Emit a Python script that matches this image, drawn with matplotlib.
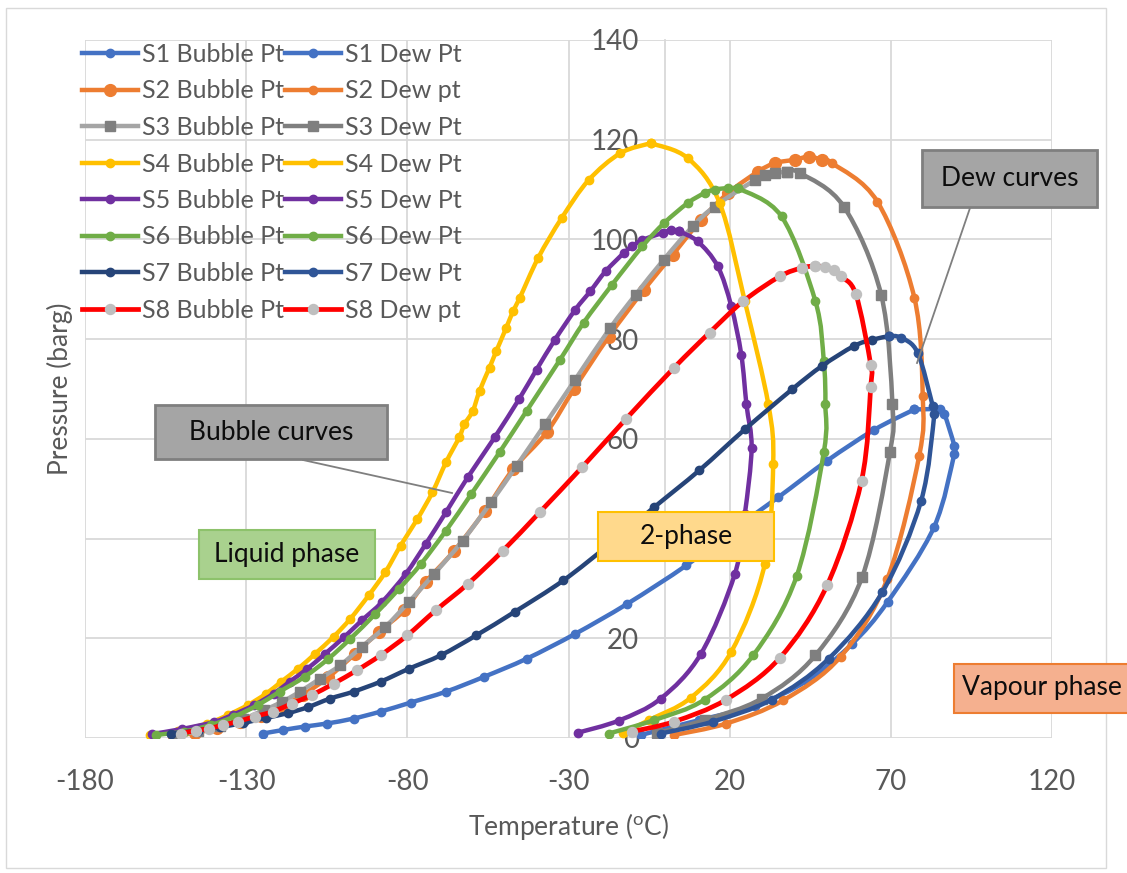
import numpy as np
import matplotlib
matplotlib.use("Agg")
import matplotlib.pyplot as plt
from matplotlib.path import Path
from matplotlib.patches import PathPatch, Rectangle
from matplotlib.lines import Line2D

plt.rcParams['font.family'] = ['Lato', 'DejaVu Sans']
plt.rcParams['mathtext.fontset'] = 'custom'
plt.rcParams['mathtext.rm'] = 'Lato'
plt.rcParams['axes.unicode_minus'] = False

# (temperature degC, pressure barg)
s1_bub_t = [-124.8, -118.6, -111.8, -105, -96.7, -88.3, -79, -68, -56.1, -43, -27.9, -11.8, 6.5, 20.5, 35.1, 50.2, 64.8, 77.3]
s1_bub_p = [0.9, 1.6, 2.3, 2.9, 3.9, 5.3, 7.1, 9.3, 12.3, 15.9, 20.9, 26.9, 34.6, 41.5, 48.3, 55.6, 61.8, 65.9]
s1_dew_t = [-7.6, 10.6, 28, 44, 58, 69.0, 83.4, 89.7, 89.7, 86.6, 85.1, 77.3]
s1_dew_p = [0.6, 3.6, 6.5, 11.5, 18.9, 27.3, 42.3, 57.0, 58.6, 65.0, 65.9, 65.9]

s2_bub_t = [-152.4, -146, -139, -132, -125.5, -119, -112.5, -104.5, -96.2, -88.8, -81, -74.3, -65.4, -56, -47.2, -36.8, -28.4, -17.5, -6.6, 2.3, 11.1, 19.5, 28.8, 34, 40.3, 44.5, 48.6]
s2_bub_p = [0.4, 1.0, 2.0, 3.2, 4.5, 6.4, 8.6, 12.2, 16.9, 21.3, 25.6, 31.3, 37.6, 45.5, 53.9, 61.3, 69.9, 80.5, 89.9, 96.9, 103.9, 109.3, 113.6, 115.3, 116.0, 116.6, 116.0]
s2_dew_t = [2.8, 18.9, 36.7, 54.4, 68.9, 78.8, 79.9, 77.3, 65.8, 51.8, 48.6]
s2_dew_p = [0.6, 2.9, 7.6, 16.3, 31.9, 56.6, 68.6, 88.3, 107.6, 115.3, 116.0]

s3_bub_t = [-151, -145, -138, -131, -124.5, -119, -113.3, -107.1, -100.8, -94.1, -86.8, -79.5, -71.7, -62.8, -54, -46.1, -37.3, -27.9, -17, -9.2, -0.5, 8.5, 15.3, 27.8, 31, 34, 37.7]
s3_bub_p = [0.6, 1.4, 2.5, 3.8, 5.6, 7.2, 9.3, 11.9, 14.6, 18.3, 22.3, 27.3, 32.9, 39.6, 47.3, 54.6, 62.9, 71.9, 82.3, 88.9, 95.9, 102.6, 106.6, 111.9, 112.9, 113.3, 113.6]
s3_dew_t = [-2.5, 12.2, 29.9, 46.6, 61.1, 69.7, 70.5, 67, 55.4, 41.9, 37.7]
s3_dew_p = [1.0, 3.6, 7.9, 16.6, 32.3, 57.3, 66.9, 88.9, 106.6, 113.3, 113.6]

s4_bub_t = [-159.7, -151, -142, -135.7, -129.5, -123.8, -119.1, -113.9, -108.6, -102.9, -97.7, -92, -86.8, -82.1, -76.9, -72.2, -68, -63.9, -62.3, -59.7, -57.6, -54.5, -52.4, -49.3, -47.2, -45.1, -39.4, -32.1, -23.75, -13.9, -4.5]
s4_bub_p = [0.6, 1.5, 2.9, 4.6, 6.6, 8.9, 11.3, 13.9, 16.9, 20.3, 23.9, 28.6, 33.3, 38.6, 43.9, 49.3, 55.3, 60.3, 62.9, 65.6, 69.6, 74.3, 77.6, 82.3, 85.6, 88.3, 96.3, 104.3, 111.9, 117.3, 119.3]
s4_dew_t = [-13, -5, 8, 20.5, 30.9, 33.5, 32, 24.7, 16.9, 7, -4.5]
s4_dew_p = [1.0, 3.6, 8.1, 17.3, 34.9, 54.9, 66.9, 87.6, 107.3, 116.3, 119.3]

s5_bub_t = [-159.2, -150, -140, -134, -127.5, -121.5, -116.5, -111, -105.5, -99.5, -94.1, -87.8, -80.5, -74.3, -68, -61.25, -52.9, -45.4, -39.9, -34.2, -27.9, -23.25, -18.5, -12.8, -10.2, -7.1, -0.8, 1.8, 4.4]
s5_bub_p = [0.8, 1.8, 3.2, 4.7, 6.6, 8.9, 11.3, 13.9, 16.9, 20.3, 23.6, 27.3, 32.9, 38.9, 45.3, 52.3, 60.3, 67.9, 73.9, 79.9, 85.9, 89.6, 93.6, 97.3, 98.6, 99.9, 101.3, 101.9, 101.6]
s5_dew_t = [-26.9, -14.4, -1.4, 11.1, 21.6, 24.7, 26.8, 25.2, 23.6, 20.5, 16.3, 10.1, 4.4]
s5_dew_p = [1.1, 3.5, 7.9, 16.9, 32.9, 44.9, 58.2, 66.9, 76.9, 86.6, 94.6, 99.6, 101.6]

s6_bub_t = [-158.1, -149.3, -141, -133.7, -126.4, -119.6, -111.8, -104.5, -97.7, -89.9, -82.6, -75.8, -68, -60.2, -51.4, -43, -32.6, -25.3, -16.5, -7.1, -0.3, 7, 12.2, 15.3, 19.5, 22.6]
s6_bub_p = [0.6, 1.3, 2.6, 4.3, 6.6, 9.3, 12.3, 15.9, 19.9, 24.9, 29.9, 34.9, 41.6, 48.9, 57.3, 65.6, 75.9, 83.3, 90.9, 98.6, 103.3, 107.3, 109.3, 110.0, 110.3, 110.3]
s6_dew_t = [-17.5, -3.4, 12.2, 27.3, 40.8, 49.2, 49.7, 49.2, 46.6, 36.1, 22.6]
s6_dew_p = [0.9, 3.6, 7.7, 16.6, 32.5, 57.3, 66.9, 75.6, 87.6, 104.6, 110.3]

s7_bub_t = [-153.4, -145, -138, -131, -124, -117, -110.8, -104, -96.7, -88.3, -79.5, -69.6, -58.6, -46.7, -31.6, -17, -3.4, 10.6, 24.7, 39.3, 48.6, 58.5, 64.3, 69.5]
s7_bub_p = [0.9, 1.5, 2.2, 3.0, 4.0, 5.0, 6.2, 7.9, 9.3, 11.3, 13.9, 16.6, 20.6, 25.3, 31.6, 39.0, 46.3, 53.7, 61.9, 69.9, 74.6, 78.6, 79.9, 80.6]
s7_dew_t = [-1.4, 14.8, 33, 50.7, 67.4, 79.4, 83.5, 83, 78.3, 73.1, 69.5]
s7_dew_p = [0.9, 3.3, 7.7, 15.9, 29.3, 47.6, 65.0, 66.6, 77.3, 80.3, 80.6]

s8_bub_t = [-150.3, -145.6, -141.5, -137.3, -132.6, -127.4, -121.7, -115.9, -109.7, -102.9, -95.6, -88.3, -80, -71.2, -61.25, -50.3, -38.9, -25.8, -12.3, 2.8, 13.75, 24.2, 35.6, 42.4, 46.6]
s8_bub_p = [0.9, 1.5, 1.9, 2.6, 3.3, 4.3, 5.3, 6.9, 8.6, 10.9, 13.6, 16.6, 20.6, 25.6, 30.9, 37.6, 45.3, 54.3, 63.9, 74.3, 81.3, 87.6, 92.6, 94.3, 94.7]
s8_dew_t = [-10.2, 2.8, 18.9, 35.6, 50.2, 60.9, 63.75, 63.75, 59.1, 54.4, 52.3, 49.7, 46.6]
s8_dew_p = [1.3, 3.3, 7.7, 16.1, 30.6, 51.6, 70.5, 74.9, 89.1, 92.6, 93.9, 94.4, 94.7]

bub_labels = ['S1 Bubble Pt', 'S2 Bubble Pt', 'S3 Bubble Pt', 'S4 Bubble Pt',
              'S5 Bubble Pt', 'S6 Bubble Pt', 'S7 Bubble Pt', 'S8 Bubble Pt']
dew_labels = ['S1 Dew Pt', 'S2 Dew pt', 'S3 Dew Pt', 'S4 Dew Pt',
              'S5 Dew Pt', 'S6 Dew Pt', 'S7 Dew Pt', 'S8 Dew pt']

x_ticks = [-180, -130, -80, -30, 20, 70, 120]
y_ticks = [0, 20, 40, 60, 80, 100, 120, 140]

# style per series: line colour, marker, marker colour, marker size, line width
bub_style = [
    ('#4472C4', 'o', '#4472C4', 6.0, 3.2),
    ('#ED7D31', 'o', '#ED7D31', 8.5, 3.2),
    ('#A5A5A5', 's', '#7F7F7F', 6.8, 3.2),
    ('#FFC000', 'o', '#FFC000', 6.0, 3.2),
    ('#7030A0', 'o', '#7030A0', 6.0, 3.2),
    ('#70AD47', 'o', '#70AD47', 6.0, 3.2),
    ('#264478', 'o', '#264478', 6.0, 3.2),
    ('#FF0000', 'o', '#BFBFBF', 7.2, 3.4),
]
dew_style = [
    ('#4472C4', 'o', '#4472C4', 6.0, 3.2),
    ('#ED7D31', 'o', '#ED7D31', 6.0, 3.2),
    ('#7F7F7F', 's', '#7F7F7F', 6.8, 3.2),
    ('#FFC000', 'o', '#FFC000', 6.0, 3.2),
    ('#7030A0', 'o', '#7030A0', 6.0, 3.2),
    ('#70AD47', 'o', '#70AD47', 6.0, 3.2),
    ('#2F5597', 'o', '#2F5597', 6.0, 3.2),
    ('#FF0000', 'o', '#BFBFBF', 7.2, 3.4),
]

bubbles = [(s1_bub_t, s1_bub_p), (s2_bub_t, s2_bub_p), (s3_bub_t, s3_bub_p), (s4_bub_t, s4_bub_p),
           (s5_bub_t, s5_bub_p), (s6_bub_t, s6_bub_p), (s7_bub_t, s7_bub_p), (s8_bub_t, s8_bub_p)]
dews = [(s1_dew_t, s1_dew_p), (s2_dew_t, s2_dew_p), (s3_dew_t, s3_dew_p), (s4_dew_t, s4_dew_p),
        (s5_dew_t, s5_dew_p), (s6_dew_t, s6_dew_p), (s7_dew_t, s7_dew_p), (s8_dew_t, s8_dew_p)]


def smooth_path(t, p):
    # smoothed line like Excel: cubic bezier through every point
    pts = np.column_stack([t, p]).astype(float)
    n = len(pts)
    verts = [pts[0]]
    codes = [Path.MOVETO]
    for i in range(n - 1):
        p0 = pts[i - 1] if i > 0 else pts[i]
        p1, p2 = pts[i], pts[i + 1]
        p3 = pts[i + 2] if i + 2 < n else pts[i + 1]
        verts += [p1 + (p2 - p0) / 6, p2 - (p3 - p1) / 6, p2]
        codes += [Path.CURVE4] * 3
    return Path(verts, codes)


W, H = 1127, 873
fig = plt.figure(figsize=(W / 100, H / 100), dpi=100)
ax = fig.add_axes([85 / W, 1 - 738 / H, (1052 - 85) / W, (738 - 40) / H])


def draw(data, style, z):
    (t, p), (lc, mk, mc, ms, lw) = data, style
    ax.add_patch(PathPatch(smooth_path(t, p), fill=False, edgecolor=lc, lw=lw,
                           capstyle='round', joinstyle='round', zorder=z))
    ax.plot(t, p, ls='none', marker=mk, ms=ms, mfc=mc, mec=mc, zorder=z + 0.5)


# Excel series order: S1 Bubble, S1 Dew, S2 Bubble, ...
for i in range(8):
    draw(bubbles[i], bub_style[i], 3 + 2 * i)
    draw(dews[i], dew_style[i], 4 + 2 * i)

ax.set_xlim(-180, 120)
ax.set_ylim(0, 140)
ax.set_xticks(x_ticks)
ax.set_yticks(y_ticks)
ax.grid(True, color='#D9D9D9', lw=1.3, zorder=0)
ax.set_axisbelow(True)
for s in ['top', 'right', 'bottom']:
    ax.spines[s].set_visible(False)
ax.spines['left'].set_position(('data', 0))
ax.spines['left'].set_color('#D9D9D9')
ax.spines['left'].set_linewidth(1.3)
ax.spines['left'].set_zorder(1)
ax.tick_params(length=0, labelsize=20, labelcolor='#595959')
ax.tick_params(axis='x', pad=22)
ax.tick_params(axis='y', pad=19)

fig.text(568 / W, 1 - 826 / H, r'Temperature ($\mathregular{^o}$C)', ha='center', va='center',
         fontsize=19, color='#595959')
fig.text(60 / W, 1 - 389 / H, 'Pressure (barg)', ha='center', va='center', rotation=90,
         fontsize=19, color='#595959')

# legend: first column bubble points, second column dew points
handles = []
for st in bub_style + dew_style:
    lc, mk, mc, ms, lw = st
    handles.append(Line2D([], [], color=lc, lw=lw, marker=mk, ms=ms, mfc=mc, mec=mc))
leg = ax.legend(handles, bub_labels + dew_labels, ncol=2, loc='upper left',
                bbox_to_anchor=(82 / W, 1 - 43 / H), bbox_transform=fig.transFigure,
                frameon=False, fontsize=18, handlelength=2.24, handletextpad=0.15,
                columnspacing=0.05, labelspacing=0.54, borderpad=0, borderaxespad=0)
for txt in leg.get_texts():
    txt.set_color('#595959')
leg.set_zorder(30)


def box(x0, y0, x1, y1, text, fc, ec, lw=1.5):
    fig.add_artist(Rectangle((x0 / W, 1 - y1 / H), (x1 - x0) / W, (y1 - y0) / H,
                             facecolor=fc, edgecolor=ec, lw=lw, zorder=40))
    fig.text((x0 + x1) / 2 / W, 1 - (y0 + y1) / 2 / H, text, ha='center', va='center',
             fontsize=19, color='#0D0D0D', zorder=41)


def leader(xa, ya, xb, yb):
    fig.add_artist(Line2D([xa / W, xb / W], [1 - ya / H, 1 - yb / H], color='#7F7F7F',
                          lw=1.3, zorder=39))


leader(303, 460, 452, 493)
leader(970, 208, 917, 363)
box(155, 405, 387, 459, 'Bubble curves', '#A5A5A5', '#7F7F7F', 2)
box(922, 150, 1097, 207, 'Dew curves', '#A5A5A5', '#7F7F7F', 2)
box(199, 530, 375, 579, 'Liquid phase', '#A9D18E', '#8DC26B')
box(598, 512, 774, 561, '2-phase', '#FFD98C', '#FFC000')
fig.add_artist(Rectangle((954 / W, 1 - 713 / H), 200 / W, 49 / H, facecolor='#F5B08F',
                         edgecolor='#ED7D31', lw=1.5, zorder=40))
fig.text(962 / W, 1 - 688 / H, 'Vapour phase', ha='left', va='center', fontsize=19,
         color='#0D0D0D', zorder=41)

# chart border
fig.add_artist(Rectangle((6 / W, 1 - 868 / H), 1100 / W, 860 / H, fill=False,
                         edgecolor='#D9D9D9', lw=1, zorder=0))

fig.savefig('out.png', dpi=100)
